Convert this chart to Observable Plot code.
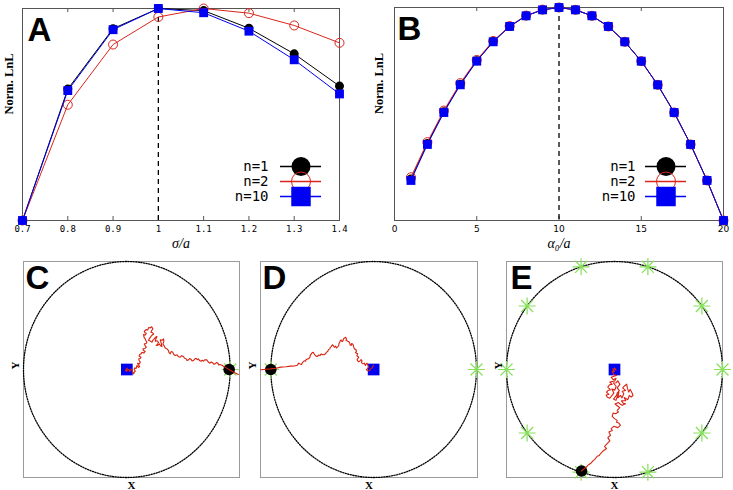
<!DOCTYPE html>
<html><head><meta charset="utf-8">
<script src="https://cdn.jsdelivr.net/npm/d3@7"></script>
<script src="https://cdn.jsdelivr.net/npm/@observablehq/plot@0.6"></script>
<style>
body{margin:0;background:#fff;}
#fig{position:relative;width:733px;height:490px;overflow:hidden;background:#fff;}
</style></head><body><div id="fig"></div>
<script>
// ---------- data ----------
const seriesNames = ["n=1", "n=2", "n=10"];
const seriesColors = ["#000000", "#d9261c", "#0000f2"];

// Panel A
const sigmaOverA = [0.7, 0.8, 0.9, 1.0, 1.1, 1.2, 1.3, 1.4];
const lnlA_n1  = [0, 0.62, 0.905, 1.0, 0.99, 0.907, 0.786, 0.634];
const lnlA_n2  = [0, 0.546, 0.83, 0.96, 1.0, 0.978, 0.92, 0.838];
const lnlA_n10 = [0, 0.613, 0.90, 1.0, 0.98, 0.893, 0.758, 0.597];
const ticksA = [0.7, 0.8, 0.9, 1.0, 1.1, 1.2, 1.3, 1.4];
const tickLabelsA = ["0.7", "0.8", "0.9", "1", "1.1", "1.2", "1.3", "1.4"];
const optimumA = 1.0;

// Panel B
const alphaOverA = [1, 2, 3, 4, 5, 6, 7, 8, 9, 10, 11, 12, 13, 14, 15, 16, 17, 18, 19, 20];
const lnlB_n1  = [0.195, 0.362, 0.511, 0.640, 0.750, 0.840, 0.911, 0.961, 0.989, 1.0, 0.989, 0.961, 0.911, 0.839, 0.748, 0.637, 0.507, 0.357, 0.188, 0];
const lnlB_n2  = [0.203, 0.368, 0.516, 0.645, 0.754, 0.843, 0.913, 0.962, 0.990, 1.0, 0.989, 0.961, 0.911, 0.839, 0.748, 0.637, 0.507, 0.357, 0.188, 0];
const lnlB_n10 = [0.188, 0.357, 0.507, 0.637, 0.748, 0.839, 0.911, 0.961, 0.989, 1.0, 0.989, 0.961, 0.911, 0.839, 0.748, 0.637, 0.507, 0.357, 0.188, 0];
const ticksB = [0, 5, 10, 15, 20];
const tickLabelsB = ["0", "5", "10", "15", "20"];
const optimumB = 10;

// Panels C-E (positions in units where the boundary radius = 100)
const boundaryRadius = 100;
const walkC = [[-1.4,-0.9],[0.5,1.2],[-0.5,-1.8],[1.8,0.2],[2.7,-1.8],[4.1,0.4],[5.0,-0.3],[5.6,-2.6],[6.6,-4.0],[7.4,-2.1],[8.2,-1.5],[7.0,0.3],[7.5,1.5],[8.9,0.9],[9.8,3.7],[11.3,1.9],[12.4,2.8],[11.0,4.4],[10.4,5.8],[12.1,5.2],[13.0,6.8],[12.0,8.1],[11.4,9.8],[12.9,10.2],[13.7,11.4],[11.9,12.3],[12.4,13.8],[13.9,14.6],[14.6,16.0],[16.4,15.2],[17.8,16.9],[16.1,17.6],[15.6,19.1],[17.5,19.5],[18.8,20.6],[17.6,22.3],[16.9,23.7],[18.5,24.0],[19.4,25.2],[18.3,26.9],[17.8,28.3],[16.6,30.0],[16.2,32.3],[17.9,32.0],[18.8,33.5],[17.5,34.1],[16.9,35.4],[18.6,36.9],[20.1,36.6],[21.2,38.9],[22.7,38.5],[24.0,39.6],[25.2,37.5],[24.1,36.2],[23.3,34.5],[24.9,34.0],[25.9,32.9],[24.0,31.5],[22.7,29.8],[21.6,28.4],[21.0,26.8],[22.8,26.3],[24.3,25.2],[25.1,27.0],[26.5,28.3],[27.6,29.9],[29.1,30.5],[28.0,28.2],[27.5,26.1],[29.3,26.6],[30.7,25.2],[29.7,23.6],[28.4,22.2],[30.2,22.5],[31.6,23.7],[32.5,22.0],[33.9,21.2],[33.4,24.0],[32.3,27.4],[34.1,27.1],[35.5,28.3],[35.8,26.0],[34.9,23.7],[36.2,21.8],[37.1,20.0],[38.9,19.1],[40.3,17.5],[40.7,15.8],[41.9,14.5],[43.0,16.6],[44.5,16.0],[45.2,14.0],[46.8,12.9],[48.5,13.6],[50.0,11.9],[51.6,11.4],[53.1,12.8],[54.8,12.0],[55.8,10.4],[57.0,10.2],[58.2,8.4],[59.6,8.9],[60.8,10.1],[62.0,9.6],[63.1,8.0],[64.4,8.3],[65.8,9.9],[67.0,10.4],[68.1,9.1],[69.2,9.8],[70.4,8.2],[71.5,7.6],[72.8,8.5],[74.1,7.7],[75.6,9.1],[77.3,8.9],[78.8,6.9],[80.5,5.8],[81.7,7.0],[83.0,6.3],[84.1,4.9],[85.3,5.2],[86.7,6.4],[88.0,5.9],[89.0,4.1],[90.1,4.6],[92.0,3.9],[94.0,2.8],[96.5,1.3],[99.1,-0.3],[103,-2.3],[107.8,-4.6]];
const walkD = [[-109.7,-0.3],[-100,0.6],[-95,1.2],[-90.3,2.2],[-85.4,2.6],[-80.6,3.1],[-77.2,3.3],[-74.2,4.0],[-72.8,5.9],[-71.6,5.2],[-70.1,4.6],[-69.3,6.2],[-67.5,8.1],[-66.1,7.7],[-65.8,9.1],[-64.5,9.8],[-63.0,10.1],[-61.9,11.4],[-61.7,13.1],[-60.6,14.5],[-59.5,15.8],[-58.7,16.0],[-57.9,14.6],[-57.4,13.8],[-56.0,12.4],[-54.8,12.0],[-53.6,13.4],[-52.2,12.9],[-51.0,14.5],[-50.0,13.8],[-48.3,13.6],[-46.8,14.5],[-45.9,15.9],[-44.5,16.9],[-43.9,18.4],[-42.6,19.1],[-42.2,20.4],[-41.3,21.2],[-40.1,22.9],[-39.3,22.2],[-38.6,21.2],[-38.0,20.6],[-37.0,21.6],[-36.1,20.0],[-35.0,21.0],[-33.9,22.2],[-33.8,23.9],[-32.9,25.2],[-32.5,26.5],[-31.6,27.4],[-30.6,25.7],[-29.7,26.8],[-29.3,28.4],[-28.4,29.2],[-27.2,29.9],[-26.4,28.3],[-26.9,27.0],[-25.1,26.1],[-24.0,25.6],[-23.2,24.3],[-22.9,22.8],[-21.9,22.2],[-21.3,24.1],[-20.0,23.1],[-19.5,21.2],[-18.7,19.1],[-17.2,18.5],[-16.7,16.9],[-17.6,15.6],[-15.5,14.5],[-16.3,12.7],[-14.5,11.4],[-15.4,10.1],[-16.1,8.9],[-14.8,7.3],[-13.5,7.7],[-12.2,9.2],[-11.3,8.3],[-11.9,6.4],[-10.3,5.2],[-9.0,5.9],[-8.0,3.7],[-7.2,5.1],[-6.4,5.8],[-5.5,4.0],[-4.8,2.2],[-6.0,0.8],[-7.1,-0.3],[-5.4,-1.2],[-3.8,-0.9],[-2.9,0.6],[-1.6,1.5],[-0.8,2.8],[0,3.7]];
const walkE = [[0,1.5],[1.5,-0.5],[-1.5,0.8],[0,-2],[-2.2,-1.5],[-0.6,-4.6],[1.8,-5.5],[-0.4,-6.2],[-3.1,-7.1],[-1.2,-9.5],[1.5,-8.2],[0.2,-10.6],[-4.3,-11.7],[-2.2,-13.8],[-4.6,-14.1],[-6.2,-16.3],[-3.7,-18.8],[-5.9,-19.4],[-7.4,-20.9],[-5.2,-23.1],[-7.8,-23.6],[-6.8,-25.5],[-4.4,-26.6],[-3.1,-24.9],[-0.6,-21.8],[-2.5,-18],[0.3,-19.1],[1.5,-15.5],[-1,-12.5],[1.6,-12.2],[3,-10.5],[5,-13.8],[2.5,-17],[4.5,-19.5],[2.6,-21.6],[1.8,-24.0],[-0.9,-27.4],[1.3,-28.6],[4.0,-20.9],[3.2,-26.2],[5.5,-24.0],[7.0,-26.3],[8.6,-22.5],[7.1,-20.2],[10.2,-19.4],[7.5,-17],[9.5,-15],[11.3,-13.6],[12,-17.5],[13.2,-20.9],[14.6,-18.4],[16.3,-21.8],[17.1,-24.1],[15.4,-25.5],[13.7,-24.0],[12.3,-28.0],[9,-26],[10.4,-29.0],[6.5,-29],[8.1,-31.2],[10.2,-31.7],[7.1,-33.2],[5.2,-31.9],[3.5,-30.5],[0.5,-32],[2.6,-33.6],[4.9,-35.4],[2.5,-37.8],[3.6,-39.4],[0.9,-40.9],[-1.2,-40.3],[-2.2,-43.4],[0,-45.5],[2.5,-47.1],[1.9,-48.9],[4.0,-49.5],[5.5,-51.7],[3.1,-53.8],[-0.6,-52.6],[-3.1,-54.8],[-2.0,-56.5],[-5.2,-57.8],[-3.7,-60.9],[-6.2,-63.1],[-4.3,-66.1],[-6.8,-68.6],[-9.2,-71.1],[-7.4,-73.2],[-10.5,-75.4],[-12.9,-77.8],[-14.1,-79.6],[-16.0,-80.3],[-18.5,-83.4],[-20.0,-84.6],[-22.2,-87.1],[-24.1,-88.2],[-25.8,-90.1],[-28.3,-92.0],[-30.5,-94.0]];
const starsC = [[100, 0]];
const starsD = [[-100, 0], [100, 0]];
const starsE = [[30.9,95.1],[-30.9,95.1],[80.9,58.8],[-80.9,58.8],[100,0],[-100,0],[80.9,-58.8],[-80.9,-58.8],[30.9,-95.1],[-30.9,-95.1]];
const startC = [0, 0], startD = [0, 0], startE = [0, 0];
const targetC = [99, 0], targetD = [-100, 0], targetE = [-30.5, -94.0];

// ---------- drawing ----------
const fig = document.getElementById("fig");
function place(node, left, top) {
  node.style.position = "absolute";
  node.style.left = left + "px";
  node.style.top = top + "px";
  node.style.overflow = "visible";
  node.style.maxWidth = "none";
  fig.appendChild(node);
}
const baseStyle = {background: "none", overflow: "visible", color: "#000"};

function markerOpts(i, big) {
  if (i === 0) return {fill: seriesColors[0], r: big ? 9.5 : 4.5};
  if (i === 1) return {stroke: seriesColors[1], fill: "none", strokeWidth: 1, r: big ? 9.5 : 4.5};
  return {symbol: "square", fill: seriesColors[2], r: big ? 11 : 5};
}

function lnlPanel(o) {
  const frameH = o.height - o.mt - o.mb;
  const marks = [
    Plot.frame({stroke: "#555"}),
    Plot.tickX(o.ticks, {x: d => d, insetTop: frameH - 4, stroke: "#555"}),
    Plot.tickX(o.ticks, {x: d => d, insetBottom: frameH - 4, stroke: "#555"}),
    Plot.ruleX([o.optimum], {x: d => d, stroke: "#000", strokeWidth: 1.3, strokeDasharray: "5,4"})
  ];
  o.series.forEach((vals, i) => {
    const pts = o.xs.map((x, j) => ({x, y: vals[j]}));
    marks.push(Plot.line(pts, {x: "x", y: "y", stroke: seriesColors[i], strokeWidth: 1}));
    marks.push(Plot.dot(pts, {x: "x", y: "y", ...markerOpts(i, false)}));
  });
  marks.push(Plot.axisX(o.ticks, {tickSize: 0, tickPadding: 5, tickFormat: d => o.tickLabels[o.ticks.indexOf(d)], fontFamily: o.tickFont, fontSize: 9, label: null}));
  marks.push(Plot.text([o.xLabel], {text: d => d, frameAnchor: "bottom", dy: 23, lineAnchor: "middle", fontFamily: "Liberation Serif, DejaVu Serif", fontStyle: "italic", fontSize: 14}));
  marks.push(Plot.text(["Norm. LnL"], {text: d => d, frameAnchor: "left", dx: o.ylabDx, rotate: -90, lineAnchor: "middle", fontFamily: "Liberation Serif", fontWeight: "bold", fontSize: 12.5}));
  marks.push(Plot.text([o.letter], {text: d => d, frameAnchor: "top-left", dx: o.letterDx, dy: 9, textAnchor: "start", lineAnchor: "top", fontFamily: "Liberation Sans", fontWeight: "bold", fontSize: 33}));
  return Plot.plot({
    width: o.width, height: o.height,
    marginLeft: o.ml, marginRight: o.mr, marginTop: o.mt, marginBottom: o.mb,
    x: {domain: o.xDomain},
    y: {domain: [0, 1], axis: null},
    style: baseStyle,
    marks
  });
}

function legendPlot(tickPadding) {
  const marks = [];
  seriesNames.forEach((name, i) => {
    marks.push(Plot.ruleY([name], {y: d => d, stroke: seriesColors[i], strokeWidth: 1.3}));
    marks.push(Plot.dot([name], {x: () => 0.5, y: d => d, ...markerOpts(i, true)}));
  });
  marks.push(Plot.axisY({tickSize: 0, tickPadding, fontSize: 14, fontFamily: "DejaVu Sans Mono", label: null}));
  return Plot.plot({
    width: 101, height: 45, marginLeft: 60, marginRight: 0, marginTop: 7, marginBottom: 8,
    x: {domain: [0, 1], axis: null},
    y: {type: "point", domain: seriesNames, padding: 0},
    style: baseStyle,
    marks
  });
}

const asterisk8 = {
  draw(context, size) {
    const r = Math.sqrt(size / Math.PI);
    const d = r * Math.SQRT1_2;
    context.moveTo(-r, 0); context.lineTo(r, 0);
    context.moveTo(0, -r); context.lineTo(0, r);
    context.moveTo(-d, -d); context.lineTo(d, d);
    context.moveTo(-d, d); context.lineTo(d, -d);
  }
};

const circleAngles = d3.range(0, 360.1, 1.5);
const boundary = circleAngles.map(a => ({x: boundaryRadius * Math.cos(a * Math.PI / 180), y: boundaryRadius * Math.sin(a * Math.PI / 180)}));

function walkPanel(o) {
  return Plot.plot({
    width: o.width, height: 245,
    marginLeft: o.ml, marginRight: o.mr, marginTop: 16, marginBottom: 13,
    x: {domain: o.xDomain, axis: null},
    y: {domain: [-100, 100], axis: null},
    style: baseStyle,
    marks: [
      Plot.frame({stroke: "#9a9a9a"}),
      Plot.line(boundary, {x: "x", y: "y", stroke: "#000", strokeWidth: 1.3, strokeDasharray: "1.2,1.4"}),
      Plot.dot(o.stars, {x: d => d[0], y: d => d[1], symbol: asterisk8, r: 8.5, stroke: "#86e05a", strokeWidth: 1.2}),
      Plot.dot([o.target], {x: d => d[0], y: d => d[1], fill: "#000", r: 5.8}),
      Plot.dot([o.start], {x: d => d[0], y: d => d[1], symbol: "square", fill: "#0000f0", r: 6.6}),
      Plot.line(o.walk, {x: d => d[0], y: d => d[1], stroke: "#d92210", strokeWidth: 1.1, clip: true}),
      Plot.text(["X"], {text: d => d, frameAnchor: "bottom", dy: 8, lineAnchor: "middle", fontFamily: "Liberation Serif", fontWeight: "bold", fontSize: 11}),
      Plot.text(["Y"], {text: d => d, frameAnchor: "left", dx: -8, rotate: -90, lineAnchor: "middle", fontFamily: "Liberation Serif", fontWeight: "bold", fontSize: 11}),
      Plot.text([o.letter], {text: d => d, frameAnchor: "top-left", dx: o.letterDx, dy: 4, textAnchor: "start", lineAnchor: "top", fontFamily: "Liberation Sans", fontWeight: "bold", fontSize: 33})
    ]
  });
}

place(lnlPanel({
  width: 360, height: 250, ml: 22, mr: 21, mt: 8, mb: 30,
  xs: sigmaOverA, series: [lnlA_n1, lnlA_n2, lnlA_n10], xDomain: [0.7, 1.4],
  ticks: ticksA, tickLabels: tickLabelsA, tickFont: "DejaVu Sans Mono",
  optimum: optimumA, xLabel: "σ/a", letter: "A", letterDx: 5, ylabDx: -14
}), 0, 0);

place(lnlPanel({
  width: 373, height: 250, ml: 34, mr: 10, mt: 7, mb: 30,
  xs: alphaOverA, series: [lnlB_n1, lnlB_n2, lnlB_n10], xDomain: [0, 20],
  ticks: ticksB, tickLabels: tickLabelsB, tickFont: "DejaVu Sans",
  optimum: optimumB, xLabel: "α₀/a", letter: "B", letterDx: 3, ylabDx: -16
}), 360, 0);

place(legendPlot(12), 220, 159);
place(legendPlot(10), 585, 159);

place(walkPanel({width: 245, ml: 23, mr: 6, xDomain: [-100, 109], walk: walkC, stars: starsC, start: startC, target: targetC, letter: "C", letterDx: 2}), 0, 245);
place(walkPanel({width: 245, ml: 15, mr: 13, xDomain: [-110, 101], walk: walkD, stars: starsD, start: startD, target: targetD, letter: "D", letterDx: 2}), 245, 245);
place(walkPanel({width: 243, ml: 16, mr: 11, xDomain: [-100, 100], walk: walkE, stars: starsE, start: startE, target: targetE, letter: "E", letterDx: 4}), 490, 245);
</script>
</body></html>
